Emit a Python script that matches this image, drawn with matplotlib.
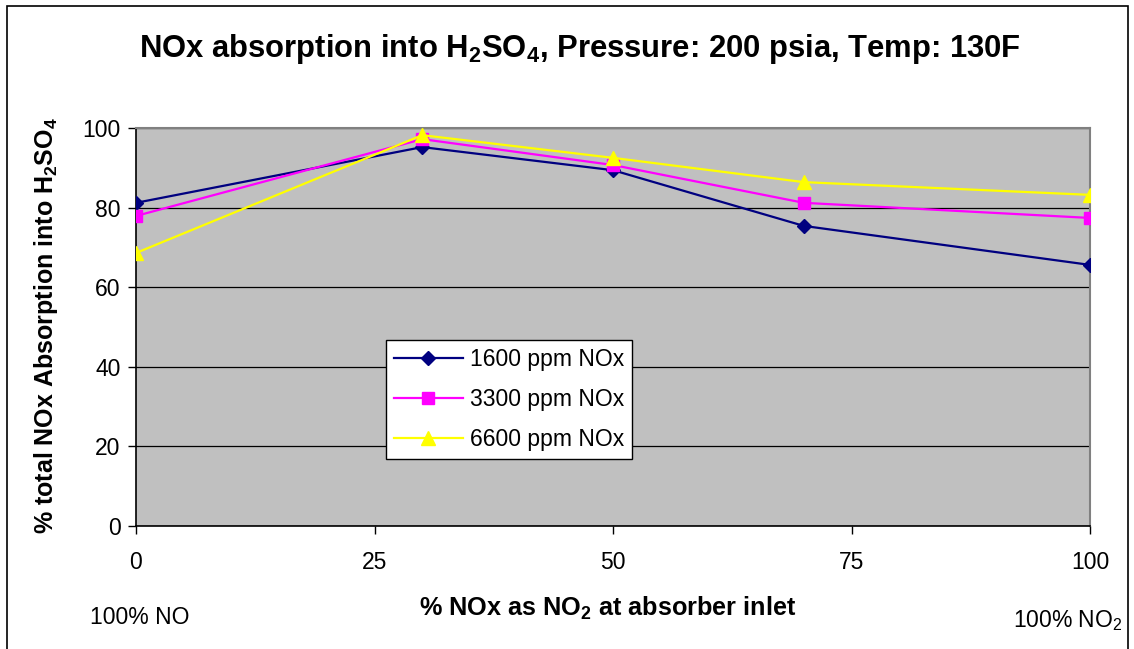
import numpy as np
import matplotlib
matplotlib.use('Agg')
import matplotlib.pyplot as plt
from matplotlib.patches import Rectangle

plt.rcParams['font.family'] = ['Liberation Sans', 'DejaVu Sans']
plt.rcParams['mathtext.default'] = 'regular'

pct_no2 = [0, 30, 50, 70, 100]
nox_1600 = [81.2, 95.2, 89.4, 75.4, 65.6]
nox_3300 = [77.9, 97.2, 90.7, 81.2, 77.4]
nox_6600 = [68.6, 98.2, 92.5, 86.4, 83.2]
series_labels = ['1600 ppm NOx', '3300 ppm NOx', '6600 ppm NOx']
x_ticks = [0, 25, 50, 75, 100]
y_ticks = [0, 20, 40, 60, 80, 100]

W, H = 1134, 649
fig = plt.figure(figsize=(W/100, H/100), dpi=100)

# outer chart border
fig.patches.append(Rectangle((7/W, -0.05), (1128-7)/W, 1.05 - 6/H,
                             transform=fig.transFigure, fill=False,
                             edgecolor='black', linewidth=1.2))

ax = fig.add_axes([136/W, 1-526/H, (1090-136)/W, (526-128)/H])
ax.set_facecolor('#C0C0C0')

ax.plot(pct_no2, nox_1600, color='#000080', marker='D', markersize=7,
        linewidth=1.6, label=series_labels[0], zorder=3)
ax.plot(pct_no2, nox_3300, color='#FF00FF', marker='s', markersize=8,
        linewidth=1.6, label=series_labels[1], zorder=3)
ax.plot(pct_no2, nox_6600, color='#FFFF00', marker='^', markersize=10,
        linewidth=1.6, label=series_labels[2], zorder=3)

ax.set_xlim(0, 100)
ax.set_ylim(0, 100)
ax.set_xticks(x_ticks)
ax.set_yticks(y_ticks)
ax.yaxis.grid(True, color='black', linewidth=0.9)
ax.set_axisbelow(True)
ax.tick_params(axis='both', labelsize=16.5, direction='out', length=6,
               width=1, color='black')
ax.tick_params(axis='x', pad=12)
ax.tick_params(axis='y', pad=5)
for s in ['left', 'bottom']:
    ax.spines[s].set_color('black')
    ax.spines[s].set_linewidth(1.2)
for s in ['top', 'right']:
    ax.spines[s].set_color('#808080')
    ax.spines[s].set_linewidth(1.5)

fig.text(580/W, 1-49/H, 'NOx absorption into H$_2$SO$_4$, Pressure: 200 psia, Temp: 130F',
         ha='center', va='center', fontsize=22.3, fontweight='bold')
fig.text(46/W, 1-326/H, '% total NOx Absorption into H$_2$SO$_4$',
         rotation=90, ha='center', va='center', fontsize=18, fontweight='bold')
fig.text(608/W, 1-608/H, '% NOx as NO$_2$ at absorber inlet',
         ha='center', va='center', fontsize=18.2, fontweight='bold')
fig.text(140/W, 1-618/H, '100% NO', ha='center', va='center', fontsize=16.5)
fig.text(1068/W, 1-621/H, '100% NO$_2$', ha='center', va='center', fontsize=16.5)

leg = ax.legend(loc='upper left', bbox_to_anchor=((386-136)/(1090-136), (526-340)/(526-128)),
                fontsize=16.5, frameon=True, fancybox=False, framealpha=1,
                edgecolor='black', borderpad=0.35, labelspacing=0.75,
                handlelength=3.0, handletextpad=0.3, borderaxespad=0)
leg.get_frame().set_linewidth(1.0)

fig.savefig('out.png', dpi=100)
